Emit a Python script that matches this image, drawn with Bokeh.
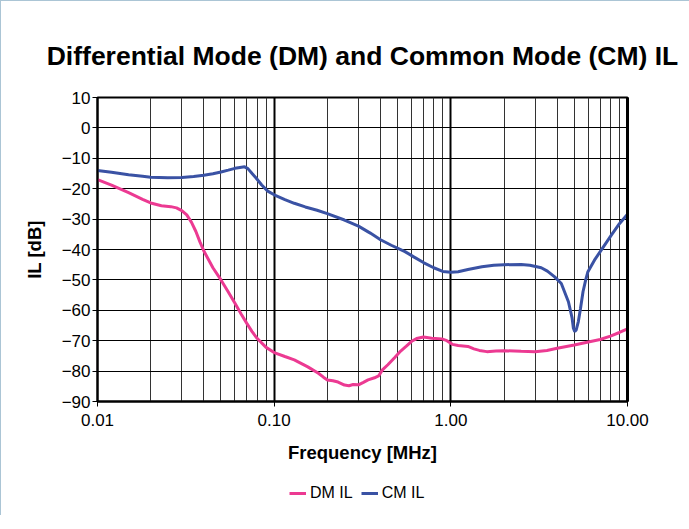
from bokeh.plotting import figure
from bokeh.layouts import column
from bokeh.models import Range1d, FixedTicker, Legend, LegendItem, LinearAxis
from bokeh.embed import file_html
from bokeh.resources import INLINE

# ---------------- data ----------------
cm_freq = [0.01, 0.012, 0.015, 0.018, 0.02, 0.025, 0.03, 0.035, 0.04, 0.045,
           0.05, 0.055, 0.06, 0.064, 0.068, 0.071, 0.075, 0.079, 0.085, 0.092,
           0.1, 0.115, 0.13, 0.15, 0.175, 0.2, 0.25, 0.3, 0.35, 0.4,
           0.46, 0.55, 0.62, 0.7, 0.8, 0.9, 1.0, 1.1, 1.25, 1.5,
           1.75, 2.0, 2.5, 2.8, 3.25, 3.52, 3.87, 4.22, 4.4, 4.63,
           4.86, 4.94, 5.03, 5.12, 5.27, 5.42, 5.6, 5.8, 5.97, 6.5,
           7.1, 8.1, 9.0, 10.0]
cm_il = [-14.0, -14.6, -15.4, -15.9, -16.2, -16.4, -16.3, -16.0, -15.6, -15.1,
         -14.5, -13.9, -13.3, -13.0, -12.8, -13.4, -15.0, -16.5, -18.8, -20.8,
         -22.0, -23.6, -24.8, -26.0, -27.1, -28.2, -30.3, -32.3, -34.6, -36.8,
         -38.6, -40.7, -42.5, -44.3, -46.0, -47.2, -47.5, -47.3, -46.6, -45.7,
         -45.2, -45.0, -44.9, -45.2, -46.0, -47.1, -49.0, -51.2, -53.9, -57.2,
         -62.6, -65.9, -67.0, -66.5, -63.7, -59.4, -53.9, -50.0, -47.3, -43.5,
         -40.2, -35.3, -31.5, -28.4]

dm_freq = [0.01, 0.012, 0.015, 0.018, 0.02, 0.023, 0.026, 0.028, 0.03, 0.032,
           0.034, 0.036, 0.038, 0.04, 0.045, 0.05, 0.055, 0.06, 0.065, 0.07,
           0.075, 0.08, 0.09, 0.1, 0.115, 0.13, 0.155, 0.178, 0.19, 0.2,
           0.215, 0.23, 0.25, 0.265, 0.28, 0.3, 0.32, 0.34, 0.37, 0.39,
           0.41, 0.44, 0.48, 0.52, 0.56, 0.6, 0.64, 0.7, 0.78, 0.89,
           0.95, 1.02, 1.1, 1.25, 1.35, 1.45, 1.6, 1.8, 2.0, 2.5,
           3.0, 3.5, 4.0, 5.0, 6.0, 7.0, 8.0, 9.0, 10.0]
dm_il = [-17.0, -18.8, -21.3, -23.5, -24.7, -25.6, -25.9, -26.3, -27.2, -28.6,
         -31.0, -34.0, -37.5, -40.5, -46.0, -50.0, -54.0, -57.7, -61.2, -64.3,
         -67.0, -69.2, -72.2, -73.9, -75.2, -76.3, -78.6, -80.7, -82.0, -82.9,
         -83.2, -83.6, -84.6, -84.8, -84.4, -84.5, -83.7, -82.9, -82.2, -81.6,
         -79.6, -77.9, -75.6, -73.4, -71.8, -70.2, -69.3, -68.8, -69.2, -69.4,
         -70.0, -71.2, -71.6, -71.9, -72.7, -73.2, -73.6, -73.4, -73.3, -73.5,
         -73.6, -73.2, -72.5, -71.4, -70.4, -69.6, -68.5, -67.3, -66.1]

x_major = [0.01, 0.1, 1.0, 10.0]
x_labels = ["0.01", "0.10", "1.00", "10.00"]
x_minor = [m * d for d in (0.01, 0.1, 1.0) for m in range(2, 10)]
y_ticks = [-90, -80, -70, -60, -50, -40, -30, -20, -10, 0, 10]

title_text = "Differential Mode (DM) and Common Mode (CM) IL"
x_title = "Frequency [MHz]"
y_title = "IL [dB]"
series_names = ["DM IL", "CM IL"]

DM_COLOR = "#EC3A92"
CM_COLOR = "#3A52A4"
FONT = "Liberation Sans"

# ---------------- main figure ----------------
p = figure(frame_width=530, frame_height=304, x_axis_type="log",
           x_range=Range1d(0.01, 10), y_range=Range1d(-90, 10),
           output_backend="svg", toolbar_location=None,
           min_border_left=96, min_border_right=62,
           min_border_top=96, min_border_bottom=72)
p.background_fill_color = "white"
p.border_fill_color = "white"
p.outline_line_color = "black"
p.outline_line_width = 2

p.title.text = title_text
p.title.align = "center"
p.title.text_font = FONT
p.title.text_font_size = "26.5px"
p.title.text_font_style = "bold"
p.title.text_color = "black"
p.title.standoff = 54
p.title.offset = -6

# axes
p.xaxis.ticker = FixedTicker(ticks=x_major, minor_ticks=x_minor)
p.xaxis.major_label_overrides = {v: s for v, s in zip(x_major, x_labels)}
p.yaxis.ticker = FixedTicker(ticks=y_ticks)
for ax in (p.xaxis, p.yaxis):
    ax.axis_line_color = "black"
    ax.axis_line_width = 2
    ax.major_tick_line_color = "black"
    ax.major_tick_line_width = 1
    ax.major_tick_out = 5
    ax.major_tick_in = 0
    ax.minor_tick_line_color = None
    ax.major_label_text_font = FONT
    ax.major_label_text_font_size = "17px"
    ax.major_label_text_color = "black"
    ax.axis_label_text_font = FONT
    ax.axis_label_text_font_size = "18.5px"
    ax.axis_label_text_font_style = "bold"
    ax.axis_label_text_color = "black"
p.xaxis.axis_label = x_title
p.yaxis.axis_label = y_title
p.xaxis.major_label_standoff = 7
p.xaxis.axis_label_standoff = 13
p.yaxis.major_label_standoff = 2
p.yaxis.axis_label_standoff = 14

# thick right edge of the plot area
right_edge = LinearAxis(ticker=FixedTicker(ticks=[]), axis_line_width=3,
                        axis_line_color="black", major_tick_line_color=None,
                        minor_tick_line_color=None)
p.add_layout(right_edge, "right")

# grid
p.xgrid.grid_line_color = "black"
p.xgrid.grid_line_width = 2
p.xgrid.minor_grid_line_color = "#333333"
p.xgrid.minor_grid_line_width = 1
p.ygrid.ticker = FixedTicker(ticks=y_ticks)
p.ygrid.grid_line_color = "black"
p.ygrid.grid_line_width = 1

# series
p.line(dm_freq, dm_il, line_color=DM_COLOR, line_width=3)
p.line(cm_freq, cm_il, line_color=CM_COLOR, line_width=3)

# ---------------- legend strip below the chart ----------------
# same series, drawn outside this strip's visible range: only their keys show
lg = figure(width=688, height=42, output_backend="svg", toolbar_location=None,
            x_range=Range1d(0, 1), y_range=Range1d(0, 1),
            x_axis_location=None, y_axis_location=None, min_border=0)
lg.outline_line_color = None
lg.grid.visible = False
lg.background_fill_color = "white"
lg.border_fill_color = "white"
dm_key = lg.line(dm_freq, dm_il, line_color=DM_COLOR, line_width=3)
cm_key = lg.line(cm_freq, cm_il, line_color=CM_COLOR, line_width=3)
legend = Legend(items=[LegendItem(label=series_names[0], renderers=[dm_key]),
                       LegendItem(label=series_names[1], renderers=[cm_key])],
                orientation="horizontal", location=(192, 13),
                border_line_color=None, background_fill_alpha=0,
                glyph_width=17, glyph_height=16, label_standoff=4, spacing=8,
                label_text_font=FONT, label_text_font_size="16px",
                label_text_color="black", padding=5, margin=0)
lg.add_layout(legend, "center")

layout = column(p, lg, spacing=0)
layout.styles = {"border-left": "1px solid #abc5d5", "border-top": "1px solid #abc5d5"}
open("out.html", "w").write(file_html(layout, INLINE))
